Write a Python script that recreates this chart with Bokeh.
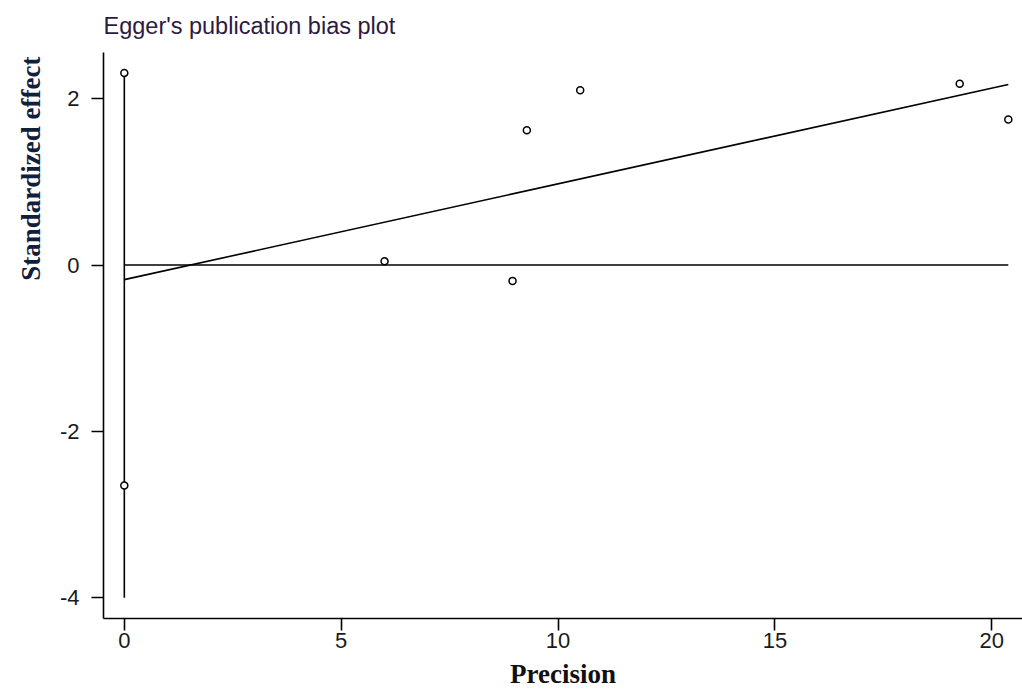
from bokeh.plotting import figure
from bokeh.models import Range1d, FixedTicker, Title
from bokeh.embed import file_html
from bokeh.resources import INLINE

# ---- data ----
precision = [0.0, 0.0, 6.0, 8.95, 9.28, 10.51, 19.26, 20.38]
std_effect = [2.31, -2.65, 0.045, -0.19, 1.62, 2.10, 2.18, 1.75]
reg_intercept = -0.175
reg_slope = 0.1151
ci_low, ci_high = -4.0, 2.31
x_ticks = [0, 5, 10, 15, 20]
y_ticks = [-4, -2, 0, 2]
y_tick_labels = {-4: "-4", -2: "-2", 0: "0", 2: "2"}
title_text = "Egger's publication bias plot"
x_title = "Precision"
y_title = "Standardized effect"

p = figure(width=1022, height=697, output_backend="svg", toolbar_location=None,
           x_range=Range1d(-0.48, 20.707), y_range=Range1d(-4.248, 2.555),
           min_border_left=103, min_border_top=52, min_border_bottom=79, min_border_right=0)
p.outline_line_color = None
p.xgrid.visible = False
p.ygrid.visible = False
p.background_fill_color = "white"
p.border_fill_color = "white"

# vertical line at precision 0
p.segment(x0=[0], y0=[ci_low], x1=[0], y1=[ci_high], line_color="black", line_width=1.6)
# zero reference line
xmax = max(precision)
p.segment(x0=[0], y0=[0], x1=[xmax], y1=[0], line_color="black", line_width=1.6)
# regression line
p.line(x=[0, xmax], y=[reg_intercept, reg_intercept + reg_slope * xmax],
       line_color="black", line_width=1.6)
# points
p.scatter(x=precision, y=std_effect, marker="circle", size=7, fill_color="white",
          line_color="black", line_width=1.5)

for ax in (p.xaxis[0], p.yaxis[0]):
    ax.axis_line_color = "black"
    ax.axis_line_width = 1.6
    ax.major_tick_line_color = "black"
    ax.major_tick_line_width = 1.6
    ax.major_tick_out = 12
    ax.major_tick_in = 0
    ax.minor_tick_line_color = None
    ax.major_label_text_font = "Liberation Sans"
    ax.major_label_text_font_size = "22px"
    ax.major_label_text_color = "#1a1a1a"

p.xaxis.ticker = FixedTicker(ticks=x_ticks)
p.yaxis.ticker = FixedTicker(ticks=y_ticks)
p.yaxis.major_label_overrides = y_tick_labels
p.xaxis.major_label_standoff = 2
p.yaxis.major_label_standoff = 12

p.xaxis.axis_label = x_title
p.xaxis.axis_label_text_font = "Liberation Serif"
p.xaxis.axis_label_text_font_style = "bold"
p.xaxis.axis_label_text_font_size = "27px"
p.xaxis.axis_label_text_color = "#111111"
p.xaxis.axis_label_standoff = 8

# main title, top-left
p.title.text = title_text
p.title.align = "left"
p.title.vertical_align = "top"
p.title.text_font = "Liberation Sans"
p.title.text_font_style = "normal"
p.title.text_font_size = "23.5px"
p.title.text_color = "#2d1a40"
p.title.standoff = 23

# y-axis title placed towards the top, as in the reference
yt = Title(text=y_title, align="right", offset=4, text_font="Liberation Serif",
           text_font_style="bold", text_font_size="27px", text_color="#10203a",
           standoff=22)
p.add_layout(yt, "left")

open("out.html", "w").write(file_html(p, INLINE))
